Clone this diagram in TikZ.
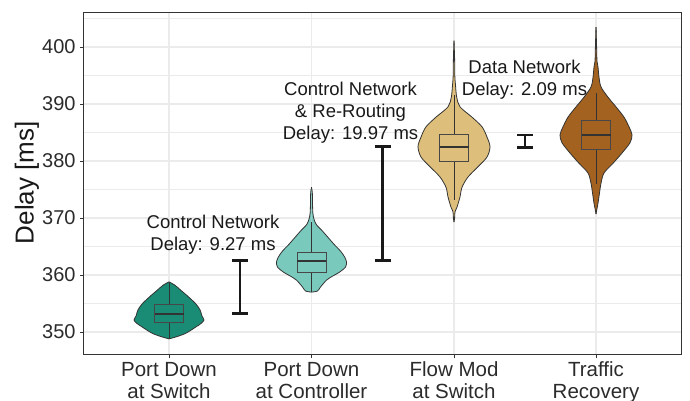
\documentclass[tikz,border=0pt]{standalone}
\usepackage{fontspec}
\setmainfont{Liberation Sans}

\definecolor{gridgray}{HTML}{EBEBEB}
\definecolor{inkgray}{HTML}{333333}
\definecolor{textgray}{HTML}{2B2B2B}
\definecolor{pdswitch}{HTML}{1A8C75}
\definecolor{pdctrl}{HTML}{79C9BD}
\definecolor{flowmod}{HTML}{DDBE7A}
\definecolor{recovery}{HTML}{A3621F}

% half outline given as (half width, delay) pairs, mirrored
\newcommand{\violin}[3]{%
  \begin{scope}[xshift=#1pt]
    \foreach \s in {1,-1}{\fill[#2, xscale=\s] plot[smooth] coordinates {#3} -- cycle;}
    \foreach \s in {1,-1}{\draw[violinline, xscale=\s] plot[smooth] coordinates {#3};}
  \end{scope}}
% x, colour, low whisker, q1, median, q3, high whisker
\newcommand{\boxplotat}[7]{%
  \draw[whisker] (#1,#3) -- (#1,#4) (#1,#6) -- (#1,#7);
  \draw[boxline, fill=#2] ({#1-14.5},#4) rectangle ({#1+14.5},#6);
  \draw[medianline] ({#1-14.5},#5) -- ({#1+14.5},#5);}
\newcommand{\delaybar}[3]{%
  \draw[errbar] (#1,#2) -- (#1,#3) ({#1-8},#2) -- ({#1+8},#2) ({#1-8},#3) -- ({#1+8},#3);}

\begin{document}
\begin{tikzpicture}[
    x=1pt, y=5.7pt, shift={(0,-338.07)},
    gridmajor/.style={draw=gridgray, line width=1.1pt},
    gridminor/.style={draw=gridgray, line width=0.6pt},
    panelborder/.style={draw=inkgray, line width=1pt},
    tickmark/.style={draw=inkgray, line width=0.9pt},
    violinline/.style={draw=inkgray, line width=0.8pt, line join=round},
    boxline/.style={draw=inkgray!90, line width=0.9pt},
    medianline/.style={draw=inkgray, line width=2pt},
    whisker/.style={draw=inkgray, line width=0.9pt},
    errbar/.style={draw=black!90, line width=2.6pt},
    ticklabel/.style={inner sep=0pt, anchor=east, text=textgray, font=\fontsize{20}{22}\selectfont},
    catlabel/.style={inner sep=0pt, align=center, text=textgray, font=\fontsize{20.5}{22}\selectfont},
    note/.style={inner sep=0pt, align=center, text=black!90, font=\fontsize{18.5}{22}\selectfont}
]
\useasboundingbox (0,338.07) rectangle (690,408.25);

% grid
\foreach \v in {355,365,...,405}
  \draw[gridminor] (83.3,\v) -- (681.5,\v);
\foreach \v in {350,360,...,400}
  \draw[gridmajor] (83.3,\v) -- (681.5,\v);
\foreach \x in {169,311.5,454,596}
  \draw[gridmajor] (\x,346.14) -- (\x,406.14);

% violins
\violin{169}{pdswitch}{(0,358.8) (6,358.2) (12,357.3) (18,356.4) (23,355.6) (27,354.9) (31,353.9) (33,352.8) (35,352.1) (32,351.5) (27,350.9) (17,349.8) (8,349.2) (0,348.8)}
\violin{311.5}{pdctrl}{(0,375.4) (0.8,374.5) (1,373) (1.3,371) (2.5,369.8) (5,368.8) (10,367.9) (17,366.5) (23,365.3) (29,364.2) (33,363.2) (35,362.3) (34,361.4) (28,360.5) (21,359.8) (15,359.1) (9,357.9) (6,357.2) (0,357.0)}
\violin{454}{flowmod}{(0,401.1) (0.6,398) (0.8,395) (1.5,393.3) (2.7,391.2) (6,389.5) (18,387.7) (28,386.0) (33,384.2) (36,382.5) (33,380.7) (24,379.0) (14,377.2) (8,375.4) (6,373.7) (3,371.9) (1,371.1) (0.6,370) (0,369.3)}
\violin{596}{recovery}{(0,403.5) (0.6,400) (1,397.5) (2,396.5) (3,394.7) (5,393.0) (12,391.2) (20,389.5) (28,387.7) (33,386.0) (36,384.6) (34,383.2) (26,381.4) (17,379.6) (8,377.9) (5,376.1) (3.5,374.4) (2,372.6) (0.8,371.5) (0,370.7)}

% boxes
\boxplotat{169}{pdswitch}{348.8}{351.75}{353.2}{354.9}{358.8}
\boxplotat{311.5}{pdctrl}{357}{360.5}{362.5}{364.0}{369.3}
\boxplotat{454}{flowmod}{373.2}{380.0}{382.5}{384.7}{391.5}
\boxplotat{596}{recovery}{376}{382.1}{384.6}{387.2}{392}

% delay bars
\delaybar{240}{353.3}{362.5}
\delaybar{382.5}{362.5}{382.5}
\delaybar{525}{382.37}{384.56}

% frame and ticks
\draw[panelborder] (83.3,346.14) rectangle (681.5,406.14);
\foreach \v in {350,360,...,400}{
  \draw[tickmark] (80,\v) -- (83.3,\v);
  \node[ticklabel] (tick\v) at (75.8,\v) {\v};
}
\foreach \x in {169,311.5,454,596}
  \draw[tickmark] (\x,346.14) -- (\x,345.53);

% labels
\node[rotate=90, anchor=base, inner sep=0pt, text=black!90, font=\fontsize{26}{30}\selectfont] (ytitle) at (33.5,376.2) {Delay [ms]};
\node[catlabel] (catpds) at (169,341.12) {\strut Port Down\\\strut at Switch};
\node[catlabel] (catpdc) at (311.5,341.12) {\strut Port Down\\\strut at Controller};
\node[catlabel] (catfm) at (454,341.12) {\strut Flow Mod\\\strut at Switch};
\node[catlabel] (catrec) at (596,341.12) {\strut Traffic\\\strut Recovery};

\node[note] (ctrlnote) at (213,367.09) {\strut Control Network\\\strut Delay: 9.27 ms};
\node[note] (routenote) at (350.5,388.32) {\strut Control Network\\\strut \& Re-Routing\\\strut Delay: 19.97 ms};
\node[note] (datanote) at (524.5,394.28) {\strut Data Network\\\strut Delay: 2.09 ms};
\end{tikzpicture}
\end{document}
